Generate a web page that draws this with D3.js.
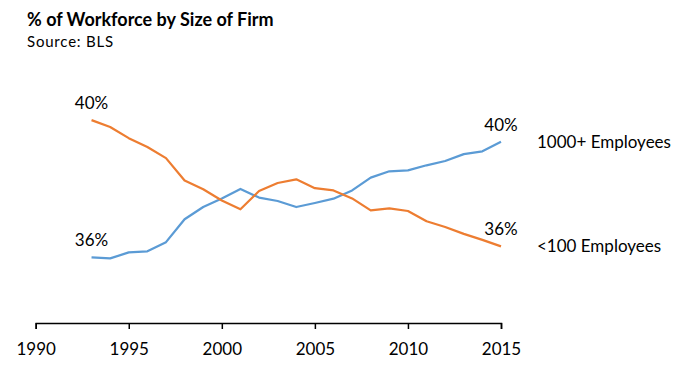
<!DOCTYPE html>
<html>
<head>
<meta charset="utf-8">
<script src="https://cdn.jsdelivr.net/npm/d3@7"></script>
<style>
  body { margin: 0; background: #fff; }
  text { font-family: Lato, "Open Sans", sans-serif; fill: #000; }
</style>
</head>
<body>
<div id="chart"></div>
<script>
const years = d3.range(1993, 2016)
const large = [35.60, 35.56, 35.77, 35.81, 36.13, 36.93, 37.36, 37.66, 37.99, 37.69, 37.57, 37.36,
    37.50, 37.65, 37.94, 38.39, 38.61, 38.64, 38.82, 38.97, 39.21, 39.31, 39.64]
const small = [40.40, 40.16, 39.77, 39.46, 39.07, 38.29, 37.98, 37.59, 37.28, 37.92, 38.20, 38.33,
    38.02, 37.94, 37.66, 37.24, 37.31, 37.22, 36.86, 36.66, 36.42, 36.21, 35.98]
const tickYears = [1990, 1995, 2000, 2005, 2010, 2015]

const series = [
    { name: '1000+ Employees', values: large, color: '#5B9BD5' },
    { name: '<100 Employees', values: small, color: '#ED7D31' }
]

const width = 683, height = 384

const svg = d3.select('#chart').append('svg')
    .attr('width', width)
    .attr('height', height)

// scales
const xScale = d3.scaleLinear().domain([1990, 2015]).range([35.7, 501])
const yScale = d3.scaleLinear().domain([33.3, 41]).range([323, 103])

// title
svg.append('text')
    .attr('x', 27).attr('y', 26)
    .attr('font-size', '18px')
    .attr('font-weight', 'bold')
    .text('% of Workforce by Size of Firm')

svg.append('text')
    .attr('x', 27).attr('y', 47)
    .attr('font-size', '15px')
    .attr('letter-spacing', '0.8px')
    .text('Source: BLS')

// x axis
const xAxis = svg.append('g')
    .attr('transform', 'translate(0,' + yScale(33.3) + ')')
    .call(d3.axisBottom(xScale).tickValues(tickYears).tickFormat(d3.format('d')).tickSize(6).tickPadding(14))

xAxis.select('.domain').attr('stroke', '#000').attr('stroke-width', 1.5)
xAxis.selectAll('.tick line').attr('stroke', '#000').attr('stroke-width', 1.5)
xAxis.selectAll('.tick text')
    .attr('font-size', '17px')
    .attr('font-family', 'Lato, sans-serif')
    .attr('fill', '#000')

const line = d3.line()
    .x((d, i) => xScale(years[i]))
    .y(d => yScale(d))

const fmt = v => d3.format('.0f')(v) + '%'

series.forEach(function (s) {
    svg.append('path')
        .datum(s.values)
        .attr('fill', 'none')
        .attr('stroke', s.color)
        .attr('stroke-width', 2.25)
        .attr('stroke-linejoin', 'round')
        .attr('d', line)

    const first = s.values[0], last = s.values[s.values.length - 1]

    svg.append('text')
        .attr('x', xScale(years[0]))
        .attr('y', yScale(first) - 11)
        .attr('text-anchor', 'middle')
        .attr('font-size', '17px')
        .text(fmt(first))

    svg.append('text')
        .attr('x', xScale(years[years.length - 1]))
        .attr('y', yScale(last) - 11)
        .attr('text-anchor', 'middle')
        .attr('font-size', '17px')
        .text(fmt(last))

    svg.append('text')
        .attr('x', 537)
        .attr('y', yScale(last) + 6)
        .attr('font-size', '17px')
        .text(s.name)
})
</script>
</body>
</html>
